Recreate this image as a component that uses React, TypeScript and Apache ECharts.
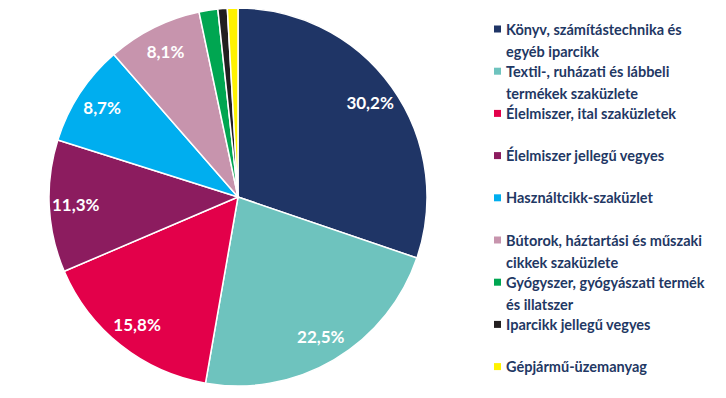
import React, { useEffect, useRef } from "react";
import * as echarts from "echarts";

const categories = [
  "Könyv, számítástechnika és\negyéb iparcikk",
  "Textil-, ruházati és lábbeli\ntermékek szaküzlete",
  "Élelmiszer, ital szaküzletek",
  "Élelmiszer jellegű vegyes",
  "Használtcikk-szaküzlet",
  "Bútorok, háztartási és műszaki\ncikkek szaküzlete",
  "Gyógyszer, gyógyászati termék\nés illatszer",
  "Iparcikk jellegű vegyes",
  "Gépjármű-üzemanyag",
];
const values = [30.2, 22.5, 15.8, 11.3, 8.7, 8.1, 1.6, 0.8, 0.9];
const colors = [
  "#1F3566",
  "#6EC3BE",
  "#E3004A",
  "#8C1C5F",
  "#00AEEF",
  "#C794AD",
  "#00A651",
  "#231F20",
  "#FFF200",
];

const TEXT = "#1F3864";
const FONT = "Lato, 'Open Sans', sans-serif";

export default function App() {
  const ref = useRef<HTMLDivElement>(null);
  useEffect(() => {
    if (!ref.current) return;
    const chart = echarts.init(ref.current, null, { renderer: "svg" });
    const data = categories.map((name, i) => ({
      name,
      value: values[i],
      itemStyle: { color: colors[i] },
    }));
    const baseRich: any = {
      t: { color: TEXT, fontFamily: FONT, fontWeight: "bold", fontSize: 14.5, lineHeight: 22, padding: [0, 0, 0, 5] },
      t2: { color: TEXT, fontFamily: FONT, fontWeight: "bold", fontSize: 14.5, lineHeight: 22, padding: [0, 0, 0, 12] },
    };
    const legends = categories.map((name, i) => {
      const rich: any = { ...baseRich };
      rich["m" + i] = { width: 7, height: 7, backgroundColor: colors[i], lineHeight: 22 };
      return {
        orient: "vertical",
        left: 489,
        top: 21.5 + 42.2 * i,
        padding: 0,
        icon: "none",
        itemWidth: 0,
        itemHeight: 0,
        selectedMode: false,
        data: [name],
        formatter: (n: string) => {
          const lines = n.split("\n");
          const second = lines[1] ? `\n{t2|${lines[1]}}` : "";
          return `{m${i}| }{t|${lines[0]}}${second}`;
        },
        textStyle: { rich, color: TEXT },
      };
    });
    chart.setOption({
      animation: false,
      legend: legends,
      series: [
        {
          type: "pie",
          center: [238, 197],
          radius: [0, 189],
          startAngle: 90,
          clockwise: true,
          silent: true,
          label: { show: false },
          labelLine: { show: false },
          itemStyle: { borderColor: "#ffffff", borderWidth: 1.5 },
          data,
        },
        {
          type: "pie",
          center: [238, 197],
          radius: [130, 189],
          startAngle: 90,
          clockwise: true,
          silent: true,
          itemStyle: { color: "rgba(0,0,0,0)" },
          label: {
            show: true,
            position: "inside",
            color: "#ffffff",
            fontFamily: FONT,
            fontWeight: "bold",
            fontSize: 17,
            formatter: (p: any) =>
              p.value >= 5 ? p.value.toFixed(1).replace(".", ",") + "%" : "",
          },
          labelLine: { show: false },
          data: categories.map((name, i) => ({ name, value: values[i] })),
        },
      ],
    });
    return () => chart.dispose();
  }, []);
  return (
    <div
      ref={ref}
      style={{ position: "fixed", left: 0, top: 0, width: 726, height: 398, background: "#fff" }}
    />
  );
}
